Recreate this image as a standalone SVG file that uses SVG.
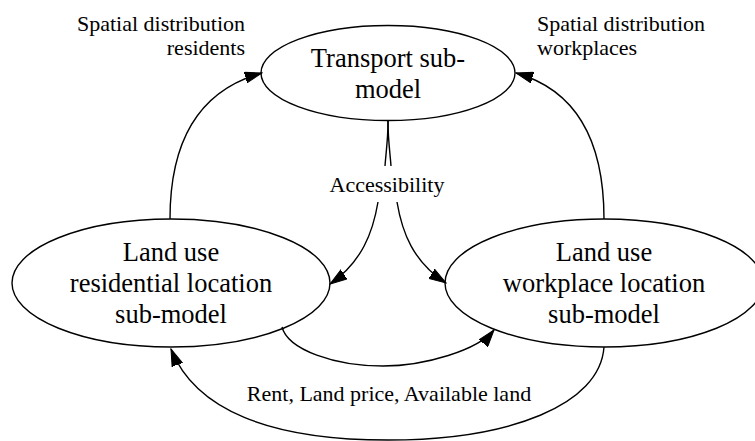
<svg xmlns="http://www.w3.org/2000/svg" width="755" height="441" viewBox="0 0 755 441">
<style>
  .node ellipse { fill: none; stroke: #000; stroke-width: 1.4; }
  .ntext { font-family: 'Liberation Serif', 'Times New Roman', serif; font-size: 26.5px; fill: #000; text-anchor: middle; }
  .label { font-family: 'Liberation Serif', 'Times New Roman', serif; font-size: 22px; fill: #000; }
  .edge { fill: none; stroke: #000; stroke-width: 1.4; }
</style>
<defs>
  <marker id="arrow" markerUnits="userSpaceOnUse" markerWidth="18" markerHeight="12" refX="17" refY="6" orient="auto" viewBox="0 0 18 12">
    <path d="M0,0.5 L17,6 L0,11.5 Z" fill="#000" stroke="#000" stroke-width="1"/>
  </marker>
</defs>
<rect width="755" height="441" fill="#fff"/>

<g id="transport" class="node">
  <ellipse cx="388" cy="73" rx="127" ry="47.5"/>
  <text class="ntext" x="388" y="67">Transport sub-</text>
  <text class="ntext" x="388" y="98">model</text>
</g>

<g id="residential" class="node">
  <ellipse cx="171" cy="283" rx="159" ry="64"/>
  <text class="ntext" x="171" y="261">Land use</text>
  <text class="ntext" x="171" y="292">residential location</text>
  <text class="ntext" x="171" y="323">sub-model</text>
</g>

<g id="workplace" class="node">
  <ellipse cx="604" cy="283" rx="159" ry="64"/>
  <text class="ntext" x="604" y="261">Land use</text>
  <text class="ntext" x="604" y="292">workplace location</text>
  <text class="ntext" x="604" y="323">sub-model</text>
</g>

<g id="accessibility">
  <text class="label" x="387" y="191.5" text-anchor="middle">Accessibility</text>
</g>

<g id="connectors">
  <path class="edge" d="M170,219 C170,140 200,90 262,73" marker-end="url(#arrow)"/>
  <path class="edge" d="M604,219 C604,140 576,90 516,73" marker-end="url(#arrow)"/>
  <path class="edge" d="M388,121 C388,140 386,152 385,166"/>
  <path class="edge" d="M388,121 C388,140 390,152 391,166"/>
  <path class="edge" d="M378,202 C373,232 362,262 330,284" marker-end="url(#arrow)"/>
  <path class="edge" d="M397,202 C402,232 413,262 446,283" marker-end="url(#arrow)"/>
  <path class="edge" d="M282,327 C288,350 335,366 383,366 C425,366 478,350 494,330" marker-end="url(#arrow)"/>
  <path class="edge" d="M604,347 C600,405 510,440 388,440 C270,440 195,410 171,349" marker-end="url(#arrow)"/>
</g>

<g id="edge-labels">
  <text class="label" x="245" y="30.5" text-anchor="end">Spatial distribution</text>
  <text class="label" x="245" y="55" text-anchor="end">residents</text>
  <text class="label" x="537" y="30.5">Spatial distribution</text>
  <text class="label" x="537" y="55">workplaces</text>
  <text class="label" x="389" y="400.5" text-anchor="middle">Rent, Land price, Available land</text>
</g>
</svg>
